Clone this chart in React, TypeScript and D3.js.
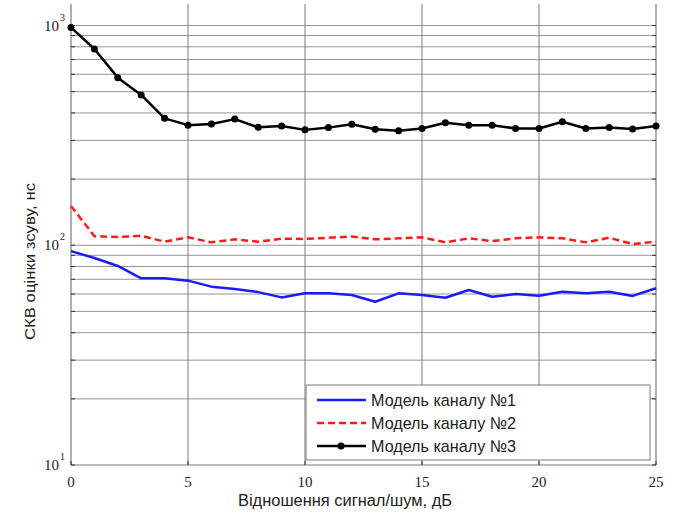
import React from "react";
import * as d3 from "d3";

const snr: number[] = [0, 1, 2, 3, 4, 5, 6, 7, 8, 9, 10, 11, 12, 13, 14, 15, 16, 17, 18, 19, 20, 21, 22, 23, 24, 25];
const model1: number[] = [94, 87.5, 80.5, 70.7, 70.7, 69, 64.8, 63.2, 61.2, 57.9, 60.5, 60.5, 59.4, 55.3, 60.4, 59.4, 57.7, 62.6, 58.3, 60, 58.9, 61.4, 60.4, 61.4, 58.8, 63.7];
const model2: number[] = [151, 110, 109, 110.5, 103.8, 108.7, 103.1, 106.4, 103.8, 107.1, 106.8, 108.2, 109.6, 106.4, 107.5, 108.7, 103.1, 107.5, 104.5, 107.5, 108.7, 107.5, 103.1, 108.2, 101.3, 103.8];
const model3: number[] = [980, 782, 579, 483, 378, 352, 356, 375, 344, 349, 335, 343, 355, 337, 332, 340, 361, 352, 352, 340, 340, 365, 340, 343, 338, 349];
const xTicks: number[] = [0, 5, 10, 15, 20, 25];
const yDecades: number[] = [1, 2, 3];
const legendLabels: string[] = ["Модель каналу №1", "Модель каналу №2", "Модель каналу №3"];
const xLabel = "Відношення сигнал/шум, дБ";
const yLabel = "СКВ оцінки зсуву, нс";

const W = 674;
const H = 513;
const L = 71, R = 656, T = 4, B = 465;

export default function App() {
  const x = d3.scaleLinear().domain([0, 25]).range([L, R]);
  const y = d3.scaleLog().domain([10, 1000]).range([B, 25.5]);
  const yMax = y.invert(T);

  const minor: number[] = [];
  for (let d = 10; d < 1000; d *= 10) {
    for (let k = 2; k <= 9; k++) minor.push(d * k);
  }
  for (let k = 2; k <= 9; k++) if (1000 * k <= yMax) minor.push(1000 * k);
  const major = [10, 100, 1000];

  const line = d3
    .line<number>()
    .x((_, i) => x(snr[i]))
    .y((d) => y(d));

  const grid = "#959595";
  const axis = "#7a7a7a";
  const serif = "'Liberation Serif', 'DejaVu Serif', serif";
  const sans = "'Liberation Sans', Arial, sans-serif";

  const legendX = 306, legendY = 385, legendW = 344, legendH = 75;
  const rows = [400, 423, 446];
  const colors = ["#1a1aff", "#ff1a1a", "#000000"];

  return (
    <svg width={W} height={H} style={{ position: "absolute", left: 0, top: 0 }}>
      <rect x={0} y={0} width={W} height={H} fill="#fff" />
      {[...minor, 100, 1000].map((v, i) => (
        <line key={"h" + i} x1={L} x2={R} y1={y(v)} y2={y(v)} stroke={grid} strokeWidth={1} />
      ))}
      {xTicks.slice(1, -1).map((t) => (
        <line key={"v" + t} x1={x(t)} x2={x(t)} y1={T} y2={B} stroke={axis} strokeWidth={1} />
      ))}
      <line x1={L} x2={L} y1={T} y2={B} stroke={axis} strokeWidth={1.2} />
      <line x1={R} x2={R} y1={T} y2={B} stroke={axis} strokeWidth={1.2} />
      <line x1={L} x2={R} y1={B} y2={B} stroke={axis} strokeWidth={1.2} />
      {[...minor, ...major].map((v, i) => (
        <g key={"mt" + i}>
          <line x1={L} x2={L + 4} y1={y(v)} y2={y(v)} stroke="#333" strokeWidth={1} />
          <line x1={R - 4} x2={R} y1={y(v)} y2={y(v)} stroke="#333" strokeWidth={1} />
        </g>
      ))}
      {xTicks.map((t) => (
        <g key={"xt" + t}>
          <line x1={x(t)} x2={x(t)} y1={B} y2={B - 4} stroke="#333" />
          <text x={x(t)} y={487} textAnchor="middle" fontFamily={serif} fontSize={15} fill="#222">
            {t}
          </text>
        </g>
      ))}
      {yDecades.map((e) => (
        <g key={"yd" + e}>
          <text x={59} y={y(Math.pow(10, e)) + 5} textAnchor="end" fontFamily={serif} fontSize={15} fill="#222">
            10
          </text>
          <text x={60} y={y(Math.pow(10, e)) - 5} fontFamily={serif} fontSize={10} fill="#222">
            {e}
          </text>
        </g>
      ))}
      <path d={line(model1) || ""} fill="none" stroke={colors[0]} strokeWidth={2.5} strokeLinejoin="round" />
      <path d={line(model2) || ""} fill="none" stroke={colors[1]} strokeWidth={2.5} strokeDasharray="7,4" />
      <path d={line(model3) || ""} fill="none" stroke={colors[2]} strokeWidth={2.5} strokeLinejoin="round" />
      {model3.map((v, i) => (
        <circle key={"c" + i} cx={x(snr[i])} cy={y(v)} r={3.5} fill="#000" />
      ))}
      <rect x={legendX} y={legendY} width={legendW} height={legendH} fill="#fff" stroke={axis} strokeWidth={1} />
      {legendLabels.map((lab, i) => (
        <g key={"lg" + i}>
          <line
            x1={317}
            x2={366}
            y1={rows[i]}
            y2={rows[i]}
            stroke={colors[i]}
            strokeWidth={2.5}
            strokeDasharray={i === 1 ? "7,4" : undefined}
          />
          {i === 2 && <circle cx={341} cy={rows[i]} r={3.5} fill="#000" />}
          <text
            x={371}
            y={rows[i] + 6}
            fontFamily={sans}
            fontSize={17}
            fill="#222"
            textLength={145}
            lengthAdjust="spacingAndGlyphs"
          >
            {lab}
          </text>
        </g>
      ))}
      <text
        x={238}
        y={506}
        fontFamily={sans}
        fontSize={16}
        fill="#222"
        textLength={214}
        lengthAdjust="spacingAndGlyphs"
      >
        {xLabel}
      </text>
      <text
        transform={`translate(35, 340) rotate(-90)`}
        fontFamily={sans}
        fontSize={15}
        fill="#222"
        textLength={157}
        lengthAdjust="spacingAndGlyphs"
      >
        {yLabel}
      </text>
    </svg>
  );
}
